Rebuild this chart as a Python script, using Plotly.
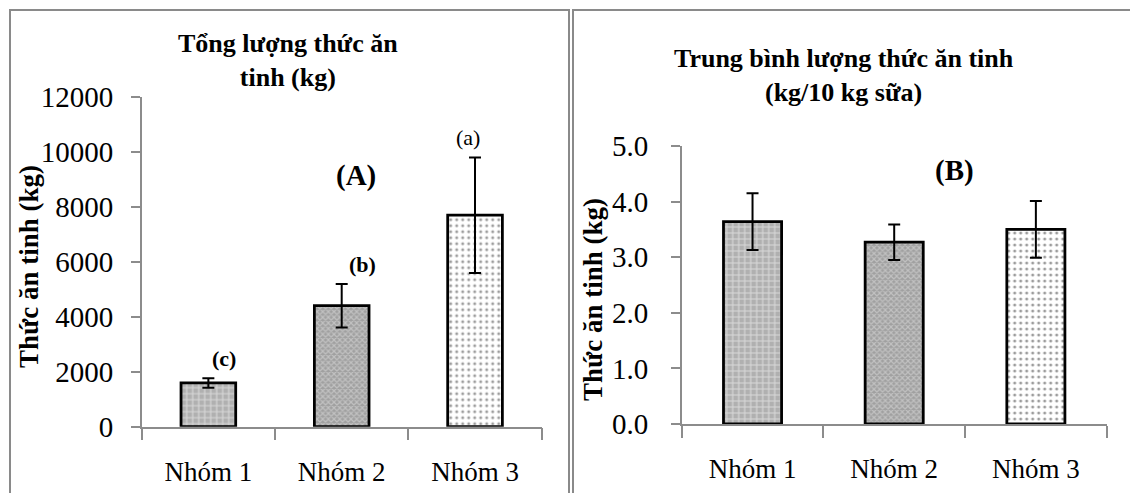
import plotly.graph_objects as go

# ---------------- data ----------------
categories = ["Nhóm 1", "Nhóm 2", "Nhóm 3"]
total_feed = [1590, 4400, 7690]          # Tổng lượng thức ăn tinh (kg)
total_feed_sd = [170, 790, 2100]
feed_per_milk = [3.64, 3.27, 3.50]       # kg / 10 kg sữa
feed_per_milk_sd = [0.51, 0.32, 0.51]
sig_letters = ["(c)", "(b)", "(a)"]
y1_ticks = [0, 2000, 4000, 6000, 8000, 10000, 12000]
y2_ticks = [0, 1, 2, 3, 4, 5]

W, H = 1130, 493
FONT = "Liberation Serif, Times New Roman, serif"

def px(x):
    return x / W

def py(y):
    return 1 - y / H

# per-category bar styles
bg = ["#b0b0b0", "#a0a0a0", "#ffffff"]
fg = ["#ffffff", "#e2e2e2", "#3a3a3a"]
shape = ["+", "x", "."]
psize = [6, 4, 6]
solid = [0.35, 0.5, 0.2]

fig = go.Figure()
for vals, sds, xa, ya in [(total_feed, total_feed_sd, "x", "y"),
                          (feed_per_milk, feed_per_milk_sd, "x2", "y2")]:
    for i, cat in enumerate(categories):
        fig.add_trace(go.Bar(
            x=[cat], y=[vals[i]], xaxis=xa, yaxis=ya,
            marker=dict(
                color=bg[i],
                line=dict(color="black", width=2.8),
                pattern=dict(shape=shape[i], bgcolor=bg[i], fgcolor=fg[i],
                             size=psize[i], solidity=solid[i], fillmode="overlay"),
            ),
            error_y=dict(type="data", array=[sds[i]], visible=True,
                         color="black", thickness=2, width=6),
            showlegend=False, hoverinfo="skip",
        ))

axis_line = "#8c8c8c"
xtickfont = dict(family=FONT, size=27, color="black")
ytickfont = dict(family=FONT, size=29, color="black")

common_x = dict(type="category", categoryorder="array", categoryarray=categories,
                showline=True, linecolor=axis_line, linewidth=1.5,
                ticks="outside", ticklen=12, tickcolor=axis_line, tickwidth=1.5,
                tickson="boundaries", showgrid=False, zeroline=False,
                tickfont=xtickfont, automargin=False, ticklabelstandoff=20,
                fixedrange=True)
common_y = dict(showline=True, linecolor=axis_line, linewidth=1.5,
                ticks="outside", ticklen=9, tickcolor=axis_line, tickwidth=1.5,
                showgrid=False, zeroline=False, tickfont=ytickfont,
                automargin=False, fixedrange=True)

fig.update_layout(
    width=W, height=H,
    margin=dict(l=0, r=0, t=0, b=0),
    paper_bgcolor="white", plot_bgcolor="white",
    barmode="overlay", bargap=0.59,
    font=dict(family=FONT, color="black"),
    xaxis=dict(domain=[px(141.7), px(541.7)], anchor="y", **common_x),
    yaxis=dict(domain=[py(426.7), py(96.7)], anchor="x", range=[0, 12000],
               tickvals=y1_ticks, tickformat="d", ticklabelstandoff=12, **common_y),
    xaxis2=dict(domain=[px(681.7), px(1106.7)], anchor="y2", **common_x),
    yaxis2=dict(domain=[py(424), py(146)], anchor="x2", range=[0, 5],
                tickvals=y2_ticks, tickformat=".1f", ticklabelstandoff=17, **common_y),
)

ann = []
# chart titles
ann.append(dict(text="<b>Tổng lượng thức ăn<br>tinh (kg)</b>", x=px(288), y=py(60.5),
                xref="paper", yref="paper", showarrow=False,
                font=dict(family=FONT, size=26), xanchor="center", yanchor="middle"))
ann.append(dict(text="<b>Trung bình lượng thức ăn tinh<br>(kg/10 kg sữa)</b>", x=px(844), y=py(75.5),
                xref="paper", yref="paper", showarrow=False,
                font=dict(family=FONT, size=26), xanchor="center", yanchor="middle"))
# y-axis titles
for xc, yc in [(29, 267), (593, 300)]:
    ann.append(dict(text="<b>Thức ăn tinh (kg)</b>", x=px(xc), y=py(yc),
                    xref="paper", yref="paper", showarrow=False, textangle=-90,
                    font=dict(family=FONT, size=27), xanchor="center", yanchor="middle"))
# panel labels
ann.append(dict(text="<b>(A)</b>", x=px(334), y=py(157), xref="paper", yref="paper",
                showarrow=False, font=dict(family=FONT, size=29)))
ann.append(dict(text="<b>(B)</b>", x=px(976), y=py(152), xref="paper", yref="paper",
                showarrow=False, font=dict(family=FONT, size=29)))
# significance letters above error bars
letter_xshift = [16, 21, -7]
letter_bold = [True, True, False]
for c, v, s, lab, xs, b in zip(categories, total_feed, total_feed_sd, sig_letters,
                               letter_xshift, letter_bold):
    ann.append(dict(text=f"<b>{lab}</b>" if b else lab, x=c, y=v + s, xref="x", yref="y",
                    showarrow=False, xanchor="center", yanchor="bottom",
                    xshift=xs, yshift=5, font=dict(family=FONT, size=22)))
fig.update_layout(annotations=ann)

# panel borders
border = dict(color="#8a8a8a", width=2)
fig.add_shape(type="rect", xref="paper", yref="paper",
              x0=px(10), x1=px(569), y0=-0.1, y1=py(10), line=border)
fig.add_shape(type="rect", xref="paper", yref="paper",
              x0=px(573), x1=1.1, y0=-0.1, y1=py(10), line=border)

fig.write_html("out.html", config={"displayModeBar": False},
               post_script="document.body.style.margin='0';document.body.style.overflow='hidden';")
